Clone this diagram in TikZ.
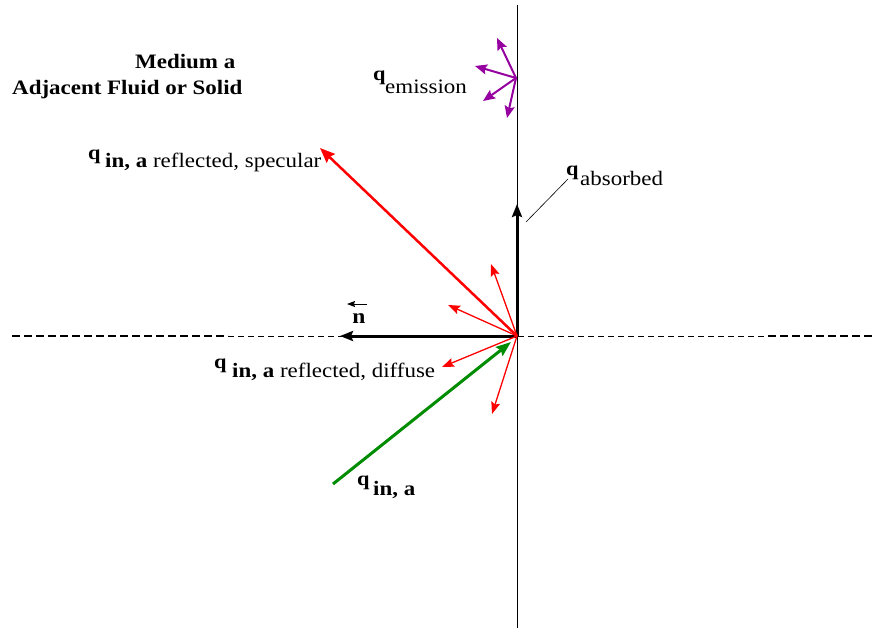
\documentclass[tikz,border=0pt]{standalone}
\usepackage{fontspec}
\setmainfont{Liberation Serif}
\newfontfamily\refserif[FakeStretch=1.12]{Liberation Serif}
\usetikzlibrary{arrows.meta}
\definecolor{redarrow}{RGB}{255,0,0}
\definecolor{greenarrow}{RGB}{0,140,0}
\definecolor{purplearrow}{RGB}{150,0,160}
\tikzset{
  thickblack/.style={line width=3pt,-{Stealth[length=13pt,width=10pt,inset=2pt]}},
  specarrow/.style={line width=2.5pt,redarrow,-{Stealth[length=15pt,width=12pt,inset=2pt]}},
  diffarrow/.style={line width=1.3pt,redarrow,-{Stealth[length=12pt,width=9pt,inset=2pt]}},
  inarrow/.style={line width=3pt,greenarrow,-{Stealth[length=15pt,width=11pt,inset=2pt]}},
  emarrow/.style={line width=2pt,purplearrow,-{Stealth[length=12pt,width=10pt,inset=2pt]}},
  qsym/.style={anchor=base west,inner sep=0pt,font=\refserif\fontsize{20}{22}\selectfont\bfseries},
  qsub/.style={anchor=base west,inner sep=0pt,font=\refserif\fontsize{20.5}{22}\selectfont},
  title/.style={anchor=base west,inner sep=0pt,font=\refserif\fontsize{20.5}{22}\selectfont\bfseries},
}
\begin{document}
\begin{tikzpicture}[x=1pt,y=-1pt]
\useasboundingbox (0,0) rectangle (875,632);
% axes
\coordinate (O) at (517,336);
\coordinate (vtop) at (517,5);
\coordinate (vbot) at (517,628);
\coordinate (hl) at (12,336);
\coordinate (hla) at (228,336);
\coordinate (hr) at (873,336);
\coordinate (hra) at (768,336);
\draw[line width=0.9pt] (vtop) -- (vbot);
\draw[line width=2.2pt,dash pattern=on 8pt off 4pt] (hl) -- (hla);
\draw[line width=0.8pt,dash pattern=on 6pt off 4pt] (hla) -- (hra);
\draw[line width=2.2pt,dash pattern=on 8pt off 4pt] (hra) -- (hr);
% normal
\coordinate (ntip) at (340,336);
\draw[thickblack] (O) -- (ntip);
\node[anchor=base,inner sep=0pt,font=\refserif\fontsize{21}{22}\selectfont\bfseries] (nlab) at (359,323) {n};
\coordinate (nar1) at (367,304);
\coordinate (nar2) at (347,304);
\draw[line width=0.9pt,-{Stealth[length=8pt,width=6pt,inset=1pt]}] (nar1) -- (nar2);
% absorbed
\coordinate (abstip) at (517,204);
\draw[thickblack] (O) -- (abstip);
\coordinate (absl1) at (526,222);
\coordinate (absl2) at (568,179);
\draw[line width=0.6pt] (absl1) -- (absl2);
\node[qsym] (qabs) at (566,175) {q};
\node[qsub] (absub) at (580,185) {absorbed};
% specular
\coordinate (spectip) at (320,148);
\draw[specarrow] (O) -- (spectip);
\node[qsym] (qspec) at (88,159) {q};
\node[qsub] (specsub) at (105,167) {\textbf{in, a} reflected, specular};
% diffuse
\coordinate (d1) at (491,264);
\coordinate (d2) at (448,305);
\coordinate (d3) at (442,367);
\coordinate (d4) at (492,414);
\foreach \t in {d1,d2,d3,d4} \draw[diffarrow] (O) -- (\t);
\node[qsym] (qdiff) at (214,368) {q};
\node[qsub] (diffsub) at (232,377) {\textbf{in, a} reflected, diffuse};
% incoming
\coordinate (gstart) at (333,484);
\coordinate (gtip) at (511,342);
\draw[inarrow] (gstart) -- (gtip);
\node[qsym] (qin) at (357,485) {q};
\node[qsub] (insub) at (373,495) {\textbf{in, a}};
% emission
\coordinate (E) at (516,78);
\coordinate (e1) at (497,38);
\coordinate (e2) at (475,66);
\coordinate (e3) at (483,101);
\coordinate (e4) at (507,118);
\foreach \t in {e1,e2,e3,e4} \draw[emarrow] (E) -- (\t);
\node[qsym] (qem) at (373,80) {q};
\node[qsub] (emsub) at (385,93) {emission};
% titles
\node[title] (medium) at (135,68) {Medium a};
\node[title] (adj) at (12,94) {Adjacent Fluid or Solid};
\end{tikzpicture}
\end{document}
